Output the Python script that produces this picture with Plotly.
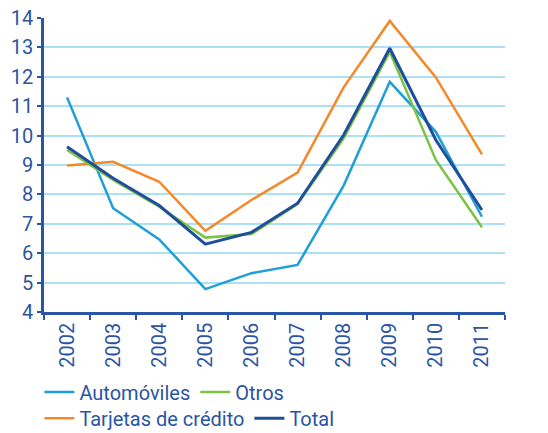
import plotly.graph_objects as go

years = ["2002", "2003", "2004", "2005", "2006", "2007", "2008", "2009", "2010", "2011"]
automoviles = [11.30, 7.53, 6.47, 4.78, 5.32, 5.60, 8.30, 11.83, 10.13, 7.24]
otros = [9.51, 8.49, 7.58, 6.53, 6.65, 7.67, 9.91, 12.85, 9.17, 6.88]
tarjetas = [8.98, 9.11, 8.43, 6.76, 7.81, 8.74, 11.64, 13.90, 11.98, 9.36]
total = [9.62, 8.55, 7.62, 6.31, 6.71, 7.70, 10.02, 12.97, 9.85, 7.47]

C_AUTO = "#1f9fd8"
C_OTROS = "#7dc243"
C_TARJ = "#f5892a"
C_TOTAL = "#1f4e9b"
C_TEXT = "#2a55a3"
C_GRID = "#aee0f5"

FONT = "Roboto"

fig = go.Figure()
fig.add_trace(go.Scatter(x=years, y=automoviles, name="Automóviles", mode="lines",
                         line=dict(color=C_AUTO, width=2.5), legend="legend"))
fig.add_trace(go.Scatter(x=years, y=tarjetas, name="Tarjetas de crédito", mode="lines",
                         line=dict(color=C_TARJ, width=2.5), legend="legend2"))
fig.add_trace(go.Scatter(x=years, y=otros, name="Otros", mode="lines",
                         line=dict(color=C_OTROS, width=2.5), legend="legend"))
fig.add_trace(go.Scatter(x=years, y=total, name="Total", mode="lines",
                         line=dict(color=C_TOTAL, width=3), legend="legend2"))

fig.update_layout(
    width=548, height=433,
    margin=dict(l=44, r=43, t=18, b=121, autoexpand=False),
    paper_bgcolor="white", plot_bgcolor="white",
    font=dict(family=FONT, size=20, color=C_TEXT),
    showlegend=True,
    legend=dict(orientation="h", x=-0.01, xanchor="left", y=-0.272, yanchor="middle",
                font=dict(size=20, color=C_TEXT), bgcolor="rgba(0,0,0,0)",
                itemwidth=30, traceorder="normal"),
    legend2=dict(orientation="h", x=-0.01, xanchor="left", y=-0.361, yanchor="middle",
                 font=dict(size=20, color=C_TEXT), bgcolor="rgba(0,0,0,0)",
                 itemwidth=30, traceorder="normal"),
)

fig.update_xaxes(type="category", range=[-0.5, 9.5], tickangle=-90, tickson="boundaries",
                 ticks="outside", ticklen=5, tickwidth=2, tickcolor=C_TEXT,
                 showline=True, linecolor=C_TEXT, linewidth=2.5,
                 showgrid=False, zeroline=False, automargin=False,
                 tickfont=dict(family=FONT, size=20, color=C_TEXT))
fig.update_yaxes(range=[4, 14], dtick=1, ticks="outside", ticklen=4, tickwidth=2,
                 tickcolor=C_TEXT, showline=True, linecolor=C_TEXT, linewidth=2.5,
                 showgrid=True, gridcolor=C_GRID, gridwidth=1.5, zeroline=False,
                 automargin=False,
                 tickfont=dict(family=FONT, size=20, color=C_TEXT))

fig.write_html("out.html", config={"displayModeBar": False},
               post_script="document.body.style.margin='0';document.body.style.padding='0';")
